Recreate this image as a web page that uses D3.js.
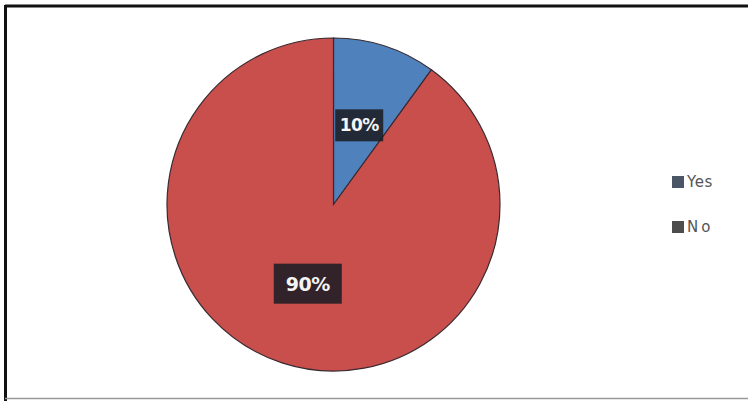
<!DOCTYPE html>
<html>
<head>
<meta charset="utf-8">
<script src="https://cdn.jsdelivr.net/npm/d3@7/dist/d3.min.js"></script>
<style>
  html, body { margin: 0; padding: 0; background: #fff; }
  svg { display: block; }
</style>
</head>
<body>
<svg id="chart" width="748" height="401"></svg>
<script>
// Survey answer shares (percent)
const categories = ["Yes", "No"];
const values = [10, 90];
const sliceColors = ["#4f81bd", "#c94f4c"];
const legendMarkColors = ["#4a5566", "#4d4d4d"];

const svg = d3.select("#chart");
const W = 748, H = 401;

// Frame: heavy top/left edge, light bottom edge
svg.append("rect").attr("x", 0).attr("y", 0).attr("width", W).attr("height", H).attr("fill", "#fff");
svg.append("line").attr("x1", 5).attr("x2", W).attr("y1", 6).attr("y2", 6)
  .attr("stroke", "#111").attr("stroke-width", 3);
svg.append("line").attr("x1", 5.5).attr("x2", 5.5).attr("y1", 5).attr("y2", H)
  .attr("stroke", "#111").attr("stroke-width", 3);
svg.append("line").attr("x1", 5).attr("x2", W).attr("y1", 398.5).attr("y2", 398.5)
  .attr("stroke", "#999").attr("stroke-width", 1.5);

const cx = 333.5, cy = 204.5, R = 166.5;

const pie = d3.pie().sort(null).value(d => d.value);
const data = categories.map((c, i) => ({ name: c, value: values[i], color: sliceColors[i] }));
const arcs = pie(data);
const arc = d3.arc().innerRadius(0).outerRadius(R);

const g = svg.append("g").attr("transform", `translate(${cx},${cy})`);

g.selectAll("path.slice")
  .data(arcs)
  .enter().append("path")
  .attr("class", "slice")
  .attr("d", arc)
  .attr("fill", d => d.data.color)
  .attr("stroke", "#3a2a30")
  .attr("stroke-width", 1.2);

// Percentage labels on dark boxes at slice centroids
const labels = g.selectAll("g.lbl")
  .data(arcs)
  .enter().append("g")
  .attr("class", "lbl")
  .attr("transform", d => {
    const [x, y] = arc.centroid(d);
    return `translate(${x},${y})`;
  });

labels.append("rect")
  .attr("x", d => d.data.value >= 50 ? -34 : -24)
  .attr("y", d => d.data.value >= 50 ? -20 : -16)
  .attr("width", d => d.data.value >= 50 ? 68 : 48)
  .attr("height", d => d.data.value >= 50 ? 40 : 32)
  .attr("fill", "#1c1c24")
  .attr("opacity", 0.88);

labels.append("text")
  .attr("text-anchor", "middle")
  .attr("dy", "0.36em")
  .attr("fill", "#f4f4f4")
  .attr("font-family", "DejaVu Sans, sans-serif")
  .attr("font-weight", "bold")
  .attr("font-size", d => d.data.value >= 50 ? 19 : 17)
  .attr("letter-spacing", -0.5)
  .text(d => d.data.value + "%");

// Legend
const legend = svg.append("g").attr("transform", "translate(672,176)");
const items = legend.selectAll("g.item")
  .data(categories)
  .enter().append("g")
  .attr("class", "item")
  .attr("transform", (d, i) => `translate(0,${i * 45})`);

items.append("rect")
  .attr("width", 12).attr("height", 12)
  .attr("fill", (d, i) => legendMarkColors[i]);

items.append("text")
  .attr("x", 15).attr("y", 11)
  .attr("fill", "#555")
  .attr("font-family", "DejaVu Sans, sans-serif")
  .attr("font-size", 15)
  .attr("letter-spacing", (d, i) => i === 1 ? 3 : 0.5)
  .text(d => d);
</script>
</body>
</html>
